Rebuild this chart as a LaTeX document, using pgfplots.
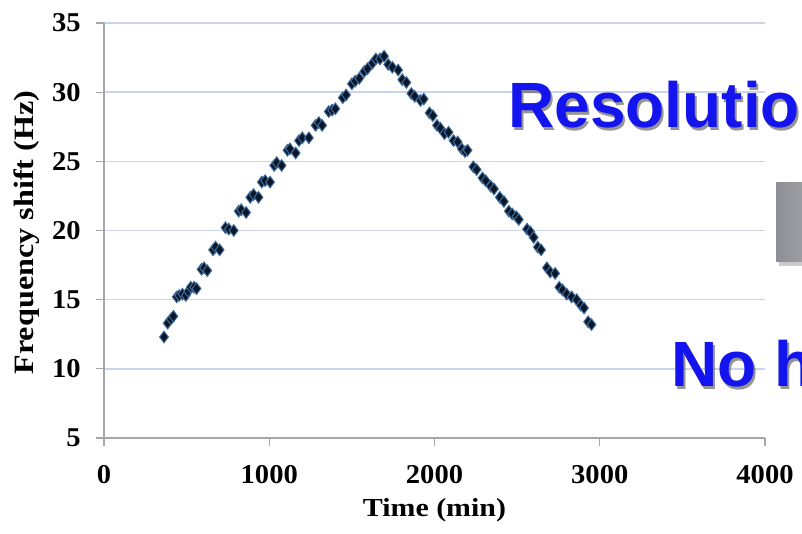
\documentclass[border=0pt]{standalone}
\usepackage{pgfplots}
\pgfplotsset{compat=1.18}
\usepackage{fontspec}
\setmainfont{Liberation Serif}
\newfontfamily\arialfont{Liberation Sans}
\definecolor{gridc}{HTML}{C9D5EA}
\definecolor{axc}{HTML}{A6A6A6}
\definecolor{markfill}{HTML}{0B1626}
\definecolor{markdraw}{HTML}{3E6C9E}
\definecolor{ovblue}{HTML}{1414EE}
\definecolor{boxgrey}{HTML}{8E8E95}
\begin{document}
\begin{tikzpicture}
\begin{axis}[
  at={(52pt,48pt)}, anchor=south west,
  scale only axis, width=330.5pt, height=207.5pt,
  xmin=0, xmax=4000, ymin=5, ymax=35,
  xtick={0,1000,2000,3000,4000}, ytick={5,10,15,20,25,30,35},
  axis lines*=left,
  axis line style={draw=axc, line width=0.6pt},
  tick style={draw=axc, line width=0.6pt},
  tick align=outside, major tick length=4pt,
  ymajorgrids, grid style={draw=gridc, line width=0.7pt},
  /pgf/number format/assume math mode=true,
  /pgf/number format/set thousands separator={},
  tick label style={font=\bfseries\fontsize{13.6}{15}\selectfont, xscale=1.05},
  yticklabel style={anchor=east, inner sep=0pt},
  xticklabel style={anchor=north, inner sep=0pt},
  yticklabel shift=7.5pt, xticklabel shift=9.5pt,
  xlabel={Time (min)}, ylabel={Frequency shift (Hz)},
  xlabel style={font=\bfseries\fontsize{13}{15}\selectfont, at={(axis description cs:0.5,-0.1735)}, anchor=center, xscale=1.15},
  ylabel style={font=\bfseries\fontsize{14}{16}\selectfont, at={(axis description cs:-0.1165,0.495)}, anchor=center, rotate=0, xscale=1.15},
  clip=false,
]
\addplot[only marks, mark=diamond*, mark size=2.9pt,
  mark options={fill=markfill, draw=markdraw, line width=0.5pt}]
coordinates {
(363,12.3)(385,13.3)(405,13.6)(420,13.8)(440,15.2)(455,15.3)(475,15.4)(495,15.3)
(510,15.6)(525,15.9)(545,15.9)(560,15.8)(590,17.2)(605,17.3)(625,17.1)(660,18.6)
(675,18.8)(700,18.6)(735,20.2)(755,20.1)(785,20.0)(815,21.4)(830,21.5)(860,21.3)
(885,22.4)(905,22.6)(935,22.4)(955,23.5)(975,23.6)(1005,23.5)(1030,24.7)(1045,24.9)
(1075,24.7)(1110,25.8)(1125,25.9)(1160,25.6)(1180,26.5)(1200,26.7)(1240,26.7)
(1280,27.6)(1300,27.8)(1320,27.6)(1360,28.6)(1380,28.7)(1400,28.8)(1445,29.6)
(1465,29.8)(1500,30.6)(1520,30.8)(1545,31.0)(1575,31.5)(1595,31.7)(1625,32.1)
(1645,32.4)(1670,32.4)(1695,32.6)
(1720,32.0)(1745,31.8)(1780,31.6)(1805,30.9)(1830,30.7)(1860,29.9)(1880,29.7)
(1915,29.4)(1935,29.5)(1970,28.5)(1990,28.3)(2015,27.6)(2035,27.4)(2060,27.0)
(2085,27.1)(2115,26.5)(2140,26.4)(2165,25.9)(2185,25.7)(2200,25.8)(2235,24.6)
(2255,24.4)(2290,23.8)(2310,23.6)(2340,23.2)(2360,23.0)(2395,22.4)(2420,22.1)
(2450,21.4)(2470,21.2)(2495,21.0)(2510,20.8)(2560,20.1)(2580,19.9)(2600,19.5)
(2625,18.8)(2645,18.6)(2680,17.3)(2700,17.0)(2730,16.9)(2755,15.9)(2775,15.7)
(2800,15.4)(2830,15.2)(2860,15.0)(2885,14.6)(2905,14.4)(2930,13.4)(2950,13.2)
};
\end{axis}
\begin{scope}[x=0.5pt, y=-0.5pt, shift={(0pt,267pt)}]
  % grey box with shadow
  \fill[black!35, opacity=0.6] (779,187) rectangle (820,266);
  \shade[left color=boxgrey, right color=boxgrey!80!white] (776,183) rectangle (815,262);
  % overlay texts with shadow
  \node[anchor=base west, inner sep=0pt, text=black!60, opacity=0.7,
        font=\arialfont\bfseries\fontsize{32}{38}\selectfont] at (510,131) {Resolution};
  \node[anchor=base west, inner sep=0pt, text=ovblue,
        font=\arialfont\bfseries\fontsize{32}{38}\selectfont] at (508,128) {Resolution};
  \node[anchor=base west, inner sep=0pt, text=black!60, opacity=0.7,
        font=\arialfont\bfseries\fontsize{32}{38}\selectfont] at (673,390) {No h};
  \node[anchor=base west, inner sep=0pt, text=ovblue,
        font=\arialfont\bfseries\fontsize{32}{38}\selectfont] at (671,387) {No h};
\end{scope}
\pgfresetboundingbox
\path[use as bounding box] (0pt,0pt) rectangle (401pt,267pt);
\end{tikzpicture}
\end{document}
